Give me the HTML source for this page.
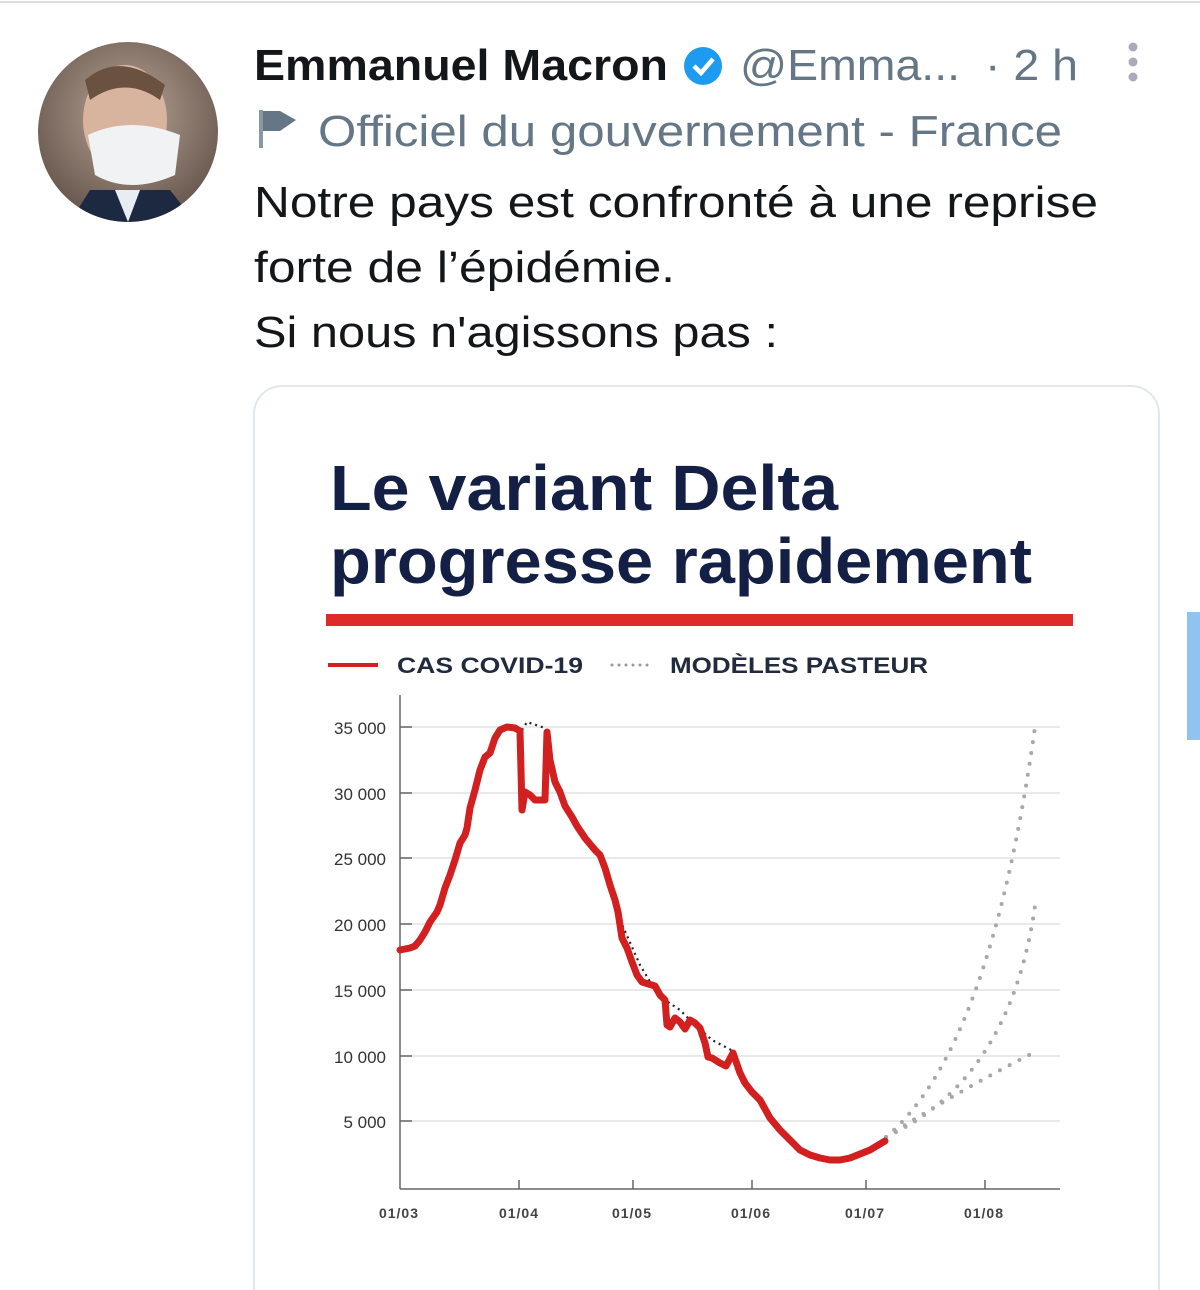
<!DOCTYPE html>
<html><head><meta charset="utf-8"><style>
html,body{margin:0;padding:0;background:#fff;width:1200px;height:1290px;overflow:hidden}
svg{display:block}
</style></head><body>
<svg width="1200" height="1290" viewBox="0 0 1200 1290" xmlns="http://www.w3.org/2000/svg" font-family="Liberation Sans, sans-serif">
<line x1="0" y1="2" x2="1200" y2="2" stroke="#ddd" stroke-width="2"/>
<defs><clipPath id="av"><circle cx="128" cy="132" r="90"/></clipPath>
<radialGradient id="bg" cx="0.5" cy="0.4" r="0.7"><stop offset="0" stop-color="#b9a596"/><stop offset="1" stop-color="#5a4a42"/></radialGradient></defs>
<g clip-path="url(#av)">
<rect x="38" y="42" width="180" height="180" fill="url(#bg)"/>
<ellipse cx="125" cy="120" rx="42" ry="55" fill="#d8b49e"/>
<path d="M85 80 Q120 50 165 85 L160 100 Q125 75 90 100Z" fill="#6b5240"/>
<path d="M88 135 Q130 115 180 135 L175 175 Q130 195 95 175Z" fill="#f1f2f4"/>
<path d="M70 222 L90 190 L170 190 L195 222Z" fill="#1d2940"/>
<path d="M115 190 L128 222 L140 190Z" fill="#e8ecf3"/>
</g>
<text x="254" y="80" font-size="44" font-weight="bold" fill="#14171a" textLength="414" lengthAdjust="spacingAndGlyphs">Emmanuel Macron</text>
<circle cx="703" cy="66" r="19" fill="#1d9bf0"/>
<path d="M694 66 L701 73 L713 59" stroke="#fff" stroke-width="4.5" fill="none"/>
<text x="740" y="80" font-size="44" fill="#657786" textLength="220" lengthAdjust="spacingAndGlyphs">@Emma...</text>
<text x="985" y="80" font-size="44" fill="#657786" textLength="93" lengthAdjust="spacingAndGlyphs">· 2 h</text>
<circle cx="1133" cy="47" r="4.5" fill="#aab"/><circle cx="1133" cy="62" r="4.5" fill="#aab"/><circle cx="1133" cy="77" r="4.5" fill="#aab"/>
<rect x="259" y="110" width="4" height="38" fill="#8899a6"/>
<path d="M263 111 L280 111 L296 120 L280 131 L263 131Z" fill="#657786"/>
<text x="318" y="146" font-size="44" fill="#657786" textLength="744" lengthAdjust="spacingAndGlyphs">Officiel du gouvernement - France</text>
<text x="254" y="217" font-size="44" fill="#14171a" textLength="844" lengthAdjust="spacingAndGlyphs">Notre pays est confronté à une reprise</text>
<text x="254" y="282" font-size="44" fill="#14171a" textLength="421" lengthAdjust="spacingAndGlyphs">forte de l’épidémie.</text>
<text x="254" y="347" font-size="44" fill="#14171a" textLength="524" lengthAdjust="spacingAndGlyphs">Si nous n'agissons pas :</text>
<rect x="254" y="386" width="905" height="940" rx="28" fill="#fff" stroke="#e1e8ed" stroke-width="2"/>
<rect x="1187" y="612" width="13" height="128" fill="#8fc4ef"/>
<text x="330" y="510" font-size="64" font-weight="bold" fill="#131f44" textLength="508" lengthAdjust="spacingAndGlyphs">Le variant Delta</text>
<text x="330" y="583" font-size="64" font-weight="bold" fill="#131f44" textLength="702" lengthAdjust="spacingAndGlyphs">progresse rapidement</text>
<rect x="326" y="614" width="747" height="12" fill="#df2a2a"/>
<line x1="328" y1="665" x2="378" y2="665" stroke="#d42020" stroke-width="4"/>
<text x="397" y="673" font-size="22" font-weight="bold" fill="#222a3d" textLength="186" lengthAdjust="spacingAndGlyphs">CAS COVID-19</text>
<line x1="612" y1="665" x2="652" y2="665" stroke="#999" stroke-width="3" stroke-dasharray="0 7" stroke-linecap="round"/>
<text x="670" y="673" font-size="22" font-weight="bold" fill="#222a3d" textLength="258" lengthAdjust="spacingAndGlyphs">MODÈLES PASTEUR</text>
<g stroke="#e2e2e2" stroke-width="1.5">
<line x1="400" y1="727" x2="1060" y2="727"/><line x1="400" y1="793" x2="1060" y2="793"/>
<line x1="400" y1="858" x2="1060" y2="858"/><line x1="400" y1="924" x2="1060" y2="924"/>
<line x1="400" y1="990" x2="1060" y2="990"/><line x1="400" y1="1056" x2="1060" y2="1056"/>
<line x1="400" y1="1121" x2="1060" y2="1121"/></g>
<g stroke="#666" stroke-width="1.5">
<line x1="400" y1="695" x2="400" y2="1189"/><line x1="400" y1="1189" x2="1060" y2="1189"/>
<line x1="400" y1="727" x2="412" y2="727"/><line x1="400" y1="793" x2="412" y2="793"/><line x1="400" y1="858" x2="412" y2="858"/><line x1="400" y1="924" x2="412" y2="924"/><line x1="400" y1="990" x2="412" y2="990"/><line x1="400" y1="1056" x2="412" y2="1056"/><line x1="400" y1="1121" x2="412" y2="1121"/>
<line x1="519" y1="1189" x2="519" y2="1180"/><line x1="633" y1="1189" x2="633" y2="1180"/><line x1="752" y1="1189" x2="752" y2="1180"/><line x1="866" y1="1189" x2="866" y2="1180"/><line x1="985" y1="1189" x2="985" y2="1180"/></g>
<g font-size="17" fill="#333" text-anchor="end">
<text x="386" y="734">35 000</text><text x="386" y="800">30 000</text><text x="386" y="865">25 000</text><text x="386" y="931">20 000</text><text x="386" y="997">15 000</text><text x="386" y="1063">10 000</text><text x="386" y="1128">5 000</text></g>
<g font-size="14" font-weight="bold" fill="#444" text-anchor="middle" letter-spacing="1">
<text x="399" y="1218">01/03</text><text x="519" y="1218">01/04</text><text x="632" y="1218">01/05</text><text x="751" y="1218">01/06</text><text x="865" y="1218">01/07</text><text x="984" y="1218">01/08</text></g>
<g fill="none" stroke="#a8a8a8" stroke-width="4" stroke-dasharray="0 11" stroke-linecap="round">
<path d="M886 1137 Q990 1050 1035 727"/>
<path d="M886 1137 Q1010 1080 1035 906"/>
<path d="M886 1137 Q960 1090 1035 1052"/>
</g>
<g fill="none" stroke="#222" stroke-width="2.2" stroke-dasharray="2 4">
<path d="M522 730 L527 722 L545 728"/>
<path d="M620 920 L640 965 L655 990 L665 1000 L680 1010 L690 1020 L712 1040 L735 1052"/>
</g>
<path fill="none" stroke="#d21f1f" stroke-width="7" stroke-linejoin="round" stroke-linecap="round" d="M400 950 L410 948 L415 946 L420 940 L425 932 L430 922 L437 912 L440 905 L445 888 L450 875 L455 860 L460 843 L465 835 L467 828 L470 808 L475 790 L480 770 L485 757 L490 753 L495 738 L500 730 L507 727 L515 728 L520 731 L522 810 L525 792 L530 795 L535 800 L545 800 L547 732 L550 760 L555 782 L560 792 L565 806 L572 817 L577 826 L585 838 L595 850 L600 855 L605 868 L610 885 L615 900 L618 912 L620 925 L622 938 L627 948 L632 962 L637 975 L642 982 L655 986 L660 995 L665 1000 L667 1025 L670 1027 L675 1018 L680 1022 L685 1029 L690 1020 L695 1023 L700 1028 L705 1043 L708 1057 L712 1058 L720 1063 L726 1066 L733 1053 L740 1073 L745 1083 L752 1092 L760 1100 L770 1118 L780 1130 L790 1140 L800 1150 L810 1155 L820 1158 L830 1160 L840 1160 L850 1158 L860 1154 L870 1150 L880 1144 L885 1141"/>
</svg>
</body></html>
